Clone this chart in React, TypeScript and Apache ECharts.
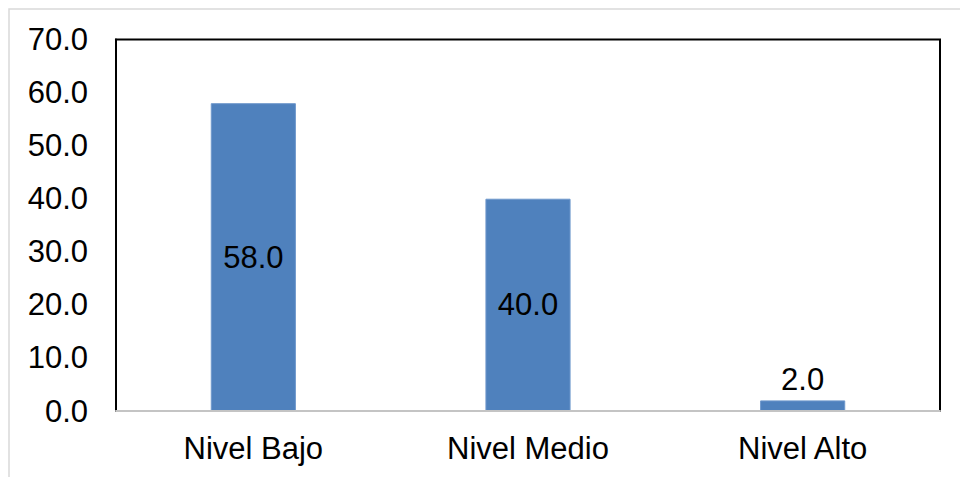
import React, { useEffect, useRef } from "react";
import * as echarts from "echarts";

const categories = ["Nivel Bajo", "Nivel Medio", "Nivel Alto"];
const values = [58.0, 40.0, 2.0];
const labelPositions = ["inside", "inside", "top"];

export default function App() {
  const ref = useRef<HTMLDivElement>(null);
  useEffect(() => {
    if (!ref.current) return;
    const chart = echarts.init(ref.current, undefined, { renderer: "svg" });
    const font = "'Liberation Sans', Arial, sans-serif";
    chart.setOption({
      animation: false,
      backgroundColor: "#ffffff",
      graphic: [
        {
          type: "rect",
          shape: { x: 9, y: 9, width: 1000, height: 600 },
          style: { fill: "none", stroke: "#d9d9d9", lineWidth: 1.5 },
          silent: true,
        },
      ],
      grid: {
        left: 116,
        top: 39.5,
        right: 20,
        bottom: 66,
        show: true,
        borderColor: "#000000",
        borderWidth: 2,
        backgroundColor: "transparent",
      },
      xAxis: {
        type: "category",
        data: categories,
        axisLine: { show: true, lineStyle: { color: "#c4c4c4", width: 2 } },
        axisTick: { show: false },
        axisLabel: {
          color: "#000000",
          fontSize: 31,
          fontFamily: font,
          margin: 22,
        },
        z: 10,
      },
      yAxis: {
        type: "value",
        min: 0,
        max: 70,
        interval: 10,
        axisLine: { show: true, lineStyle: { color: "#000000", width: 2 } },
        axisTick: { show: false },
        splitLine: { show: false },
        axisLabel: {
          color: "#000000",
          fontSize: 31,
          fontFamily: font,
          margin: 28,
          formatter: (v: number) => v.toFixed(1),
        },
      },
      series: [
        {
          type: "bar",
          barWidth: "31%",
          data: values.map((v, i) => ({
            value: v,
            label: { position: labelPositions[i] },
          })),
          itemStyle: { color: "#4f81bd", borderColor: "#6f98cc", borderWidth: 1 },
          label: {
            show: true,
            color: "#000000",
            fontSize: 31,
            fontFamily: font,
            formatter: (p: any) => Number(p.value).toFixed(1),
          },
        },
      ],
    });
    return () => chart.dispose();
  }, []);
  return (
    <div
      ref={ref}
      style={{ position: "fixed", left: 0, top: 0, width: 960, height: 477 }}
    />
  );
}
